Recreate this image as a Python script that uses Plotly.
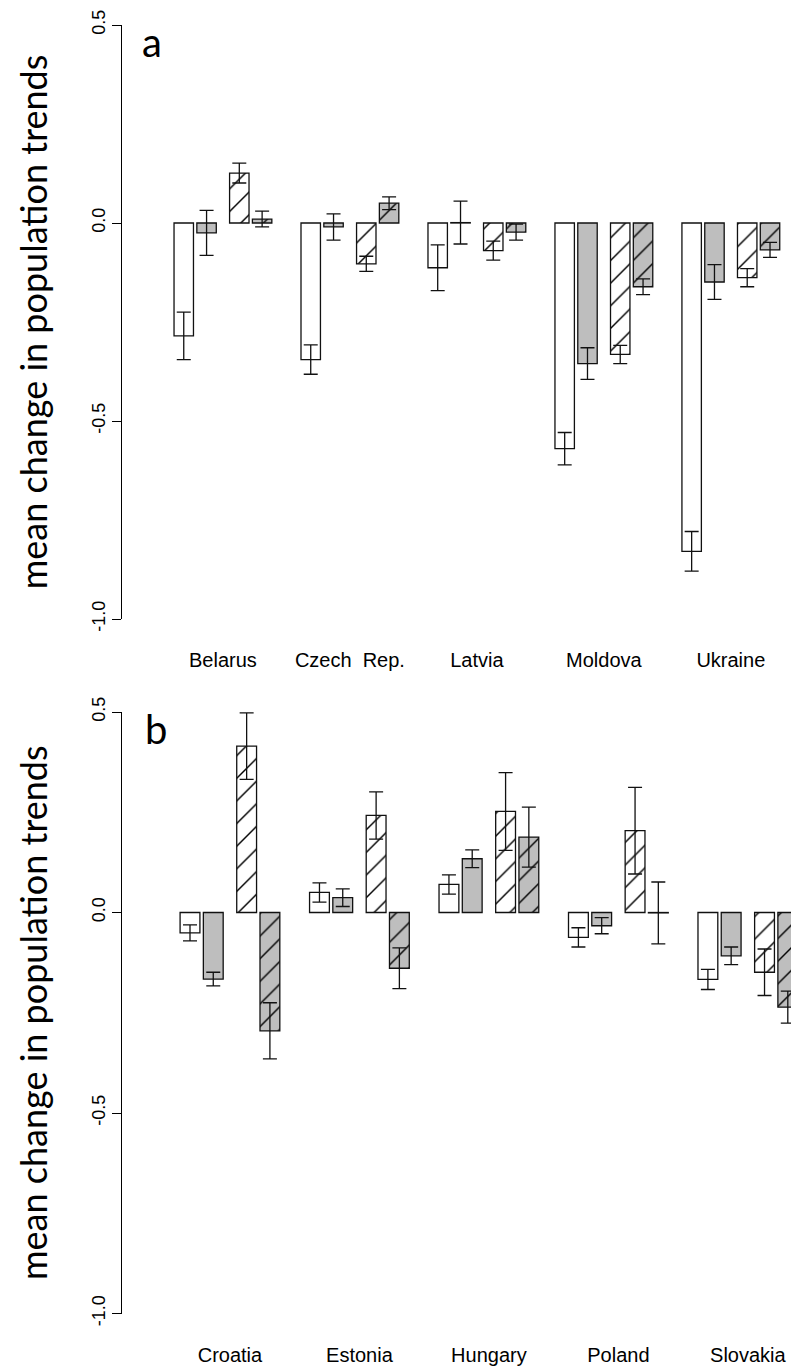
import plotly.graph_objects as go

# ---------------- data ----------------
countries_a = ["Belarus", "Czech  Rep.", "Latvia", "Moldova", "Ukraine"]
countries_b = ["Croatia", "Estonia", "Hungary", "Poland", "Slovakia"]

# panel a: four series per country (plain white, plain grey, hatched white, hatched grey)
a_white = [-0.285, -0.345, -0.113, -0.570, -0.829]
a_white_se = [0.060, 0.037, 0.058, 0.041, 0.050]
a_grey = [-0.025, -0.010, 0.001, -0.355, -0.149]
a_grey_se = [0.057, 0.033, 0.054, 0.040, 0.044]
a_hwhite = [0.126, -0.103, -0.070, -0.332, -0.138]
a_hwhite_se = [0.025, 0.019, 0.024, 0.023, 0.023]
a_hgrey = [0.010, 0.050, -0.023, -0.161, -0.068]
a_hgrey_se = [0.020, 0.016, 0.020, 0.020, 0.019]

# panel b
b_white = [-0.051, 0.050, 0.070, -0.062, -0.167]
b_white_se = [0.020, 0.024, 0.024, 0.024, 0.025]
b_grey = [-0.166, 0.037, 0.134, -0.033, -0.108]
b_grey_se = [0.017, 0.022, 0.022, 0.020, 0.022]
b_hwhite = [0.415, 0.242, 0.252, 0.204, -0.149]
b_hwhite_se = [0.083, 0.059, 0.097, 0.108, 0.058]
b_hgrey = [-0.295, -0.139, 0.188, -0.001, -0.236]
b_hgrey_se = [0.070, 0.051, 0.075, 0.077, 0.040]

y_ticks = [-1.0, -0.5, 0.0, 0.5]
y_ticktext = ["-1.0", "-0.5", "0.0", "0.5"]
y_title = "mean change in population trends"

# ---------------- layout helpers ----------------
W, H = 799, 1372
PAGE_OFF = 8  # default body margin of the written page
PITCH = 6.4
OFFSETS = [0.0, 1.15, 2.8, 3.95]
BAR_W = 0.98
GREY = "#bebebe"
TITLE_FONT = "Lato"
TICK_FONT = "Liberation Sans, Arial"


def px_x(px):
    return (px - PAGE_OFF) / W


def px_y(px):
    return 1 - (px - PAGE_OFF) / H


def add_panel(fig, series, xa, ya):
    styles = [("white", ""), (GREY, ""), ("white", "/"), (GREY, "/")]
    for j, (vals, se) in enumerate(series):
        xs = [i * PITCH + OFFSETS[j] for i in range(len(vals))]
        color, shape = styles[j]
        marker = dict(color=color, line=dict(color="#111111", width=1.3))
        if shape:
            marker["pattern"] = dict(shape=shape, fillmode="overlay", fgcolor="#000000",
                                     fgopacity=1, size=16, solidity=0.09)
        fig.add_trace(go.Bar(
            x=xs, y=vals, width=BAR_W, marker=marker,
            error_y=dict(type="data", array=se, color="#111111", thickness=1.3, width=7),
            xaxis=xa, yaxis=ya, showlegend=False, hoverinfo="skip"))


fig = go.Figure()
add_panel(fig, [(a_white, a_white_se), (a_grey, a_grey_se),
                (a_hwhite, a_hwhite_se), (a_hgrey, a_hgrey_se)], "x", "y")
add_panel(fig, [(b_white, b_white_se), (b_grey, b_grey_se),
                (b_hwhite, b_hwhite_se), (b_hgrey, b_hgrey_se)], "x2", "y2")

centers_a = [i * PITCH + (OFFSETS[0] + OFFSETS[-1]) / 2 for i in range(len(countries_a))]
centers_b = [i * PITCH + (OFFSETS[0] + OFFSETS[-1]) / 2 for i in range(len(countries_b))]

# plot area spans page x 122 .. 807 (right edge past the window)
right_px = W + PAGE_OFF
xcommon = dict(showline=False, ticks="", showgrid=False, zeroline=False,
               tickfont=dict(family=TICK_FONT, size=20, color="black"),
               ticklabelstandoff=27, fixedrange=True, automargin=False)
ycommon = dict(range=[-1.0, 0.5], tickvals=y_ticks, ticktext=y_ticktext,
               ticks="outside", ticklen=9, tickwidth=1, tickcolor="black",
               tickangle=-90, tickfont=dict(family=TICK_FONT, size=18, color="black"),
               showline=True, linecolor="black", linewidth=1,
               showgrid=False, zeroline=False, fixedrange=True, automargin=False,
               title=dict(text=y_title, font=dict(family=TITLE_FONT, size=36, color="black"),
                          standoff=30))

scale_a = 19.84
scale_b = 20.23
fig.update_layout(
    width=W, height=H, margin=dict(l=0, r=0, t=0, b=0, autoexpand=False),
    plot_bgcolor="white", paper_bgcolor="white", barmode="overlay", showlegend=False,
    xaxis=dict(domain=[px_x(122), 1], anchor="y",
               range=[(122 - 183.75) / scale_a, (right_px - 183.75) / scale_a],
               tickvals=centers_a, ticktext=countries_a, **xcommon),
    yaxis=dict(domain=[px_y(619), px_y(25)], anchor="x", **ycommon),
    xaxis2=dict(domain=[px_x(122), 1], anchor="y2",
                range=[(122 - 190.0) / scale_b, (right_px - 190.0) / scale_b],
                tickvals=centers_b, ticktext=countries_b, **xcommon),
    yaxis2=dict(domain=[px_y(1313.5), px_y(712)], anchor="x2", **ycommon),
    annotations=[
        dict(text="a", x=px_x(140), y=px_y(42), xref="paper", yref="paper",
             xanchor="left", yanchor="middle", showarrow=False,
             font=dict(family=TITLE_FONT, size=40, color="black")),
        dict(text="b", x=px_x(143), y=px_y(729), xref="paper", yref="paper",
             xanchor="left", yanchor="middle", showarrow=False,
             font=dict(family=TITLE_FONT, size=40, color="black")),
    ],
)

fig.write_html("out.html")
